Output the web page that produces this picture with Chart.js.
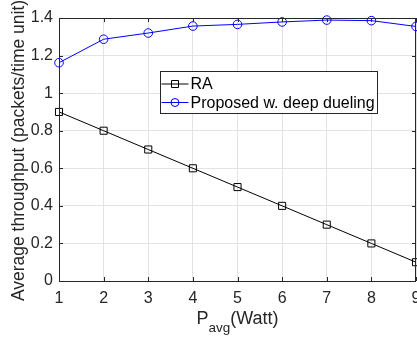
<!DOCTYPE html>
<html lang="en">
<head>
<meta charset="UTF-8">
<title>Throughput vs Pavg</title>
<script src="https://cdn.jsdelivr.net/npm/chart.js@4.4.0/dist/chart.umd.min.js"></script>
<style>
  html, body { margin: 0; padding: 0; background: #fff; }
  #wrap { width: 417px; height: 343px; }
</style>
</head>
<body>
<div id="wrap"><canvas id="chart" width="417" height="343"></canvas></div>
<script>
// data
var pavg = [1, 2, 3, 4, 5, 6, 7, 8, 9]
var ra = [0.9, 0.8, 0.7, 0.6, 0.5, 0.4, 0.3, 0.2, 0.1]
var proposed = [1.162, 1.287, 1.32, 1.357, 1.366, 1.379, 1.389, 1.386, 1.355]
var seriesNames = ["RA", "Proposed w. deep dueling"]
var yTicks = [0, 0.2, 0.4, 0.6, 0.8, 1, 1.2, 1.4]
var yTitle = "Average throughput (packets/time unit)"

var FONT = "'Liberation Sans', Arial, sans-serif"
var AXIS = "#262626"

function pts(ys) {
    return pavg.map(function (x, i) { return { x: x, y: ys[i] } })
}

// box, inward ticks, titles and the matlab style legend
var decor = {
    id: "decor",
    afterDatasetsDraw: function (chart) {
        var ctx = chart.ctx
        var a = chart.chartArea
        var xs = chart.scales.x, ys = chart.scales.y
        ctx.save()
        ctx.strokeStyle = AXIS
        ctx.lineWidth = 1
        ctx.beginPath()
        ctx.moveTo(a.left + 0.5, a.bottom + 0.5)
        ctx.lineTo(a.left + 0.5, a.top + 0.5)
        ctx.lineTo(a.right - 0.5, a.top + 0.5)
        ctx.lineTo(a.right - 0.5, a.bottom + 0.5)
        ctx.lineTo(a.left + 0.5, a.bottom + 0.5)
        ctx.stroke()
        var tl = 4
        ctx.beginPath()
        pavg.forEach(function (v) {
            var px = Math.round(xs.getPixelForValue(v)) + 0.5
            ctx.moveTo(px, a.bottom); ctx.lineTo(px, a.bottom - tl)
            ctx.moveTo(px, a.top); ctx.lineTo(px, a.top + tl)
        })
        yTicks.forEach(function (v) {
            var py = Math.round(ys.getPixelForValue(v)) + 0.5
            ctx.moveTo(a.left, py); ctx.lineTo(a.left + tl, py)
            ctx.moveTo(a.right, py); ctx.lineTo(a.right - tl, py)
        })
        ctx.stroke()

        // y title
        ctx.fillStyle = AXIS
        ctx.font = "17.5px " + FONT
        ctx.textAlign = "center"
        ctx.textBaseline = "middle"
        ctx.save()
        ctx.translate(19, (a.top + a.bottom) / 2 + 1)
        ctx.rotate(-Math.PI / 2)
        ctx.fillText(yTitle, 0, 0)
        ctx.restore()

        // x title with subscript
        var big = "18px " + FONT, small = "13.5px " + FONT
        ctx.textAlign = "left"
        ctx.textBaseline = "alphabetic"
        ctx.font = big
        var wP = ctx.measureText("P").width
        var wW = ctx.measureText("(Watt)").width
        ctx.font = small
        var wS = ctx.measureText("avg").width
        var x0 = (a.left + a.right) / 2 - (wP + wS + wW) / 2
        var base = 324
        ctx.font = big
        ctx.fillText("P", x0, base)
        ctx.font = small
        ctx.fillText("avg", x0 + wP, base + 8)
        ctx.font = big
        ctx.fillText("(Watt)", x0 + wP + wS, base)

        // legend
        var lx = 160.5, ly = 71.5, lw = 217, lh = 42
        ctx.fillStyle = "#fff"
        ctx.fillRect(lx, ly, lw, lh)
        ctx.strokeStyle = AXIS
        ctx.strokeRect(lx, ly, lw, lh)
        var rows = [84, 102.5]
        chart.data.datasets.forEach(function (ds, i) {
            var y = rows[i]
            ctx.strokeStyle = ds.borderColor
            ctx.lineWidth = 1
            ctx.beginPath()
            ctx.moveTo(lx + 1, y); ctx.lineTo(lx + 28, y)
            ctx.stroke()
            var mx = lx + 14.5
            ctx.beginPath()
            if (ds.pointStyle === "rect") {
                ctx.rect(mx - 3.5, y - 3.5, 7, 7)
            } else {
                ctx.arc(mx, y, 4, 0, Math.PI * 2)
            }
            ctx.stroke()
            ctx.fillStyle = "#000"
            ctx.font = "16px " + FONT
            ctx.textBaseline = "middle"
            ctx.fillText(seriesNames[i], lx + 30, y + 1)
        })
        ctx.restore()
    }
}

var config = {
    type: "line",
    data: {
        datasets: [
            {
                label: seriesNames[0],
                data: pts(ra),
                borderColor: "#000000",
                backgroundColor: "rgba(0,0,0,0)",
                borderWidth: 1,
                pointStyle: "rect",
                pointRadius: 5,
                pointBorderWidth: 1,
                pointBackgroundColor: "rgba(0,0,0,0)",
                pointBorderColor: "#000000",
                tension: 0,
                clip: false
            },
            {
                label: seriesNames[1],
                data: pts(proposed),
                borderColor: "#0000ff",
                backgroundColor: "rgba(0,0,0,0)",
                borderWidth: 1,
                pointStyle: "circle",
                pointRadius: 4.3,
                pointBorderWidth: 1,
                pointBackgroundColor: "rgba(0,0,0,0)",
                pointBorderColor: "#0000ff",
                tension: 0,
                clip: false
            }
        ]
    },
    options: {
        responsive: false,
        animation: false,
        layout: { autoPadding: false, padding: { top: 18, right: 1, left: 0, bottom: 0 } },
        plugins: { legend: { display: false }, tooltip: { enabled: false } },
        scales: {
            x: {
                type: "linear",
                min: 1, max: 9,
                afterFit: function (s) { s.height = 62; s.paddingLeft = 0; s.paddingRight = 0 },
                afterBuildTicks: function (s) { s.ticks = pavg.map(function (v) { return { value: v } }) },
                grid: { color: "#e3e3e3", drawTicks: false },
                border: { display: false },
                ticks: { padding: 8, color: AXIS, font: { family: FONT, size: 16 }, maxRotation: 0,
                    callback: function (v) { return String(v) } }
            },
            y: {
                min: 0, max: 1.4,
                afterFit: function (s) { s.width = 59; s.paddingTop = 0; s.paddingBottom = 0 },
                afterBuildTicks: function (s) { s.ticks = yTicks.map(function (v) { return { value: v } }) },
                grid: { color: "#e3e3e3", drawTicks: false },
                border: { display: false },
                ticks: { padding: 6, color: AXIS, font: { family: FONT, size: 16 },
                    callback: function (v) { return String(Math.round(v * 10) / 10) } }
            }
        }
    },
    plugins: [decor]
}

window.addEventListener("load", function () {
    new Chart(document.getElementById("chart"), config)
})
</script>
</body>
</html>
